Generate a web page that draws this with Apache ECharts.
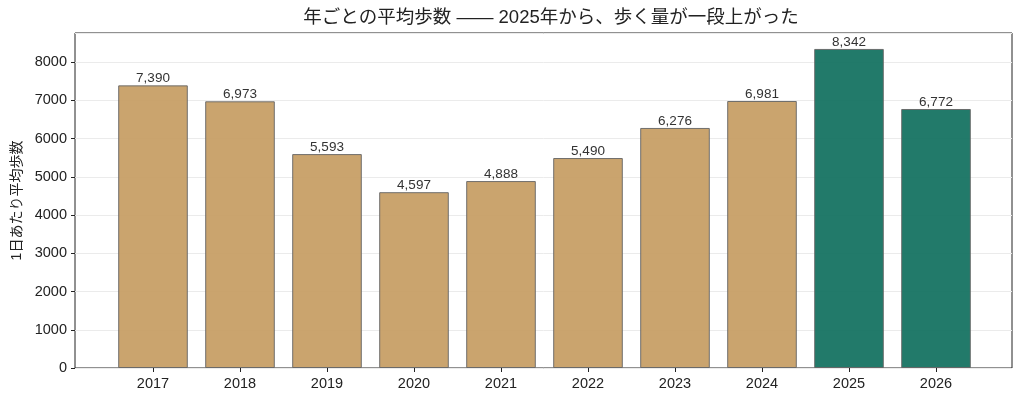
<!DOCTYPE html>
<html>
<head>
<meta charset="utf-8">
<script src="https://cdn.jsdelivr.net/npm/echarts@6/dist/echarts.min.js"></script>
<style>
  html, body { margin: 0; padding: 0; background: #fff; }
  #chart { width: 1024px; height: 403px; }
</style>
</head>
<body>
<div id="chart"></div>
<script>
  const years = ['2017', '2018', '2019', '2020', '2021', '2022', '2023', '2024', '2025', '2026'];
  const steps = [7390, 6973, 5593, 4597, 4888, 5490, 6276, 6981, 8342, 6772];
  const highlightYears = ['2025', '2026'];
  const yMax = 8342 * 1.05;

  const font = '"Liberation Sans", "Noto Sans CJK JP", sans-serif';
  const tan = '#c69c62';
  const teal = '#0f6f5d';

  const myChart = echarts.init(document.getElementById('chart'));

  const getOption = () => ({
    backgroundColor: '#fff',
    textStyle: { fontFamily: font },
    title: {
      text: '年ごとの平均歩数 —— 2025年から、歩く量が一段上がった',
      left: 546,
      textAlign: 'center',
      top: 4,
      textStyle: { fontSize: 18.5, fontWeight: 'normal', color: '#222', fontFamily: font },
    },
    grid: [
      // 枠と目盛り
      { left: 75, right: 12, top: 33, bottom: 35, show: true, borderColor: '#222', borderWidth: 1, containLabel: false },
      // 棒グラフ
      { left: 109.5, right: 44.5, top: 33, bottom: 35, containLabel: false },
    ],
    xAxis: [
      { type: 'category', gridIndex: 0, data: years, show: false },
      {
        type: 'category',
        gridIndex: 1,
        data: years,
        axisLine: { show: false },
        axisTick: { show: true, alignWithLabel: true, length: 4, lineStyle: { color: '#222' } },
        axisLabel: { color: '#222', fontSize: 14.5, margin: 9, fontFamily: font },
      },
    ],
    yAxis: [
      {
        type: 'value',
        gridIndex: 0,
        min: 0,
        max: yMax,
        interval: 1000,
        name: '1日あたり平均歩数',
        nameLocation: 'middle',
        nameGap: 51,
        nameTextStyle: { fontSize: 14, color: '#222', fontFamily: font },
        axisLine: { show: false },
        axisTick: { show: true, length: 4, lineStyle: { color: '#222' } },
        axisLabel: {
          color: '#222', fontSize: 14.5, margin: 8, fontFamily: font,
          showMaxLabel: false,
          formatter: (v) => String(v),
        },
        splitLine: { show: true, lineStyle: { color: '#ebebeb', width: 1 } },
      },
      { type: 'value', gridIndex: 1, min: 0, max: yMax, show: false, splitLine: { show: false } },
    ],
    series: [
      {
        type: 'bar',
        xAxisIndex: 1,
        yAxisIndex: 1,
        barWidth: '80%',
        data: steps.map((v, i) => ({
          value: v,
          itemStyle: { color: highlightYears.includes(years[i]) ? teal : tan },
        })),
        itemStyle: { borderColor: '#666', borderWidth: 1, opacity: 0.92 },
        label: {
          show: true,
          position: 'top',
          distance: 0,
          color: '#222',
          fontSize: 13.5,
          fontFamily: font,
          formatter: (p) => p.value.toLocaleString('en-US'),
        },
      },
    ],
  });

  myChart.setOption(getOption());
</script>
</body>
</html>
